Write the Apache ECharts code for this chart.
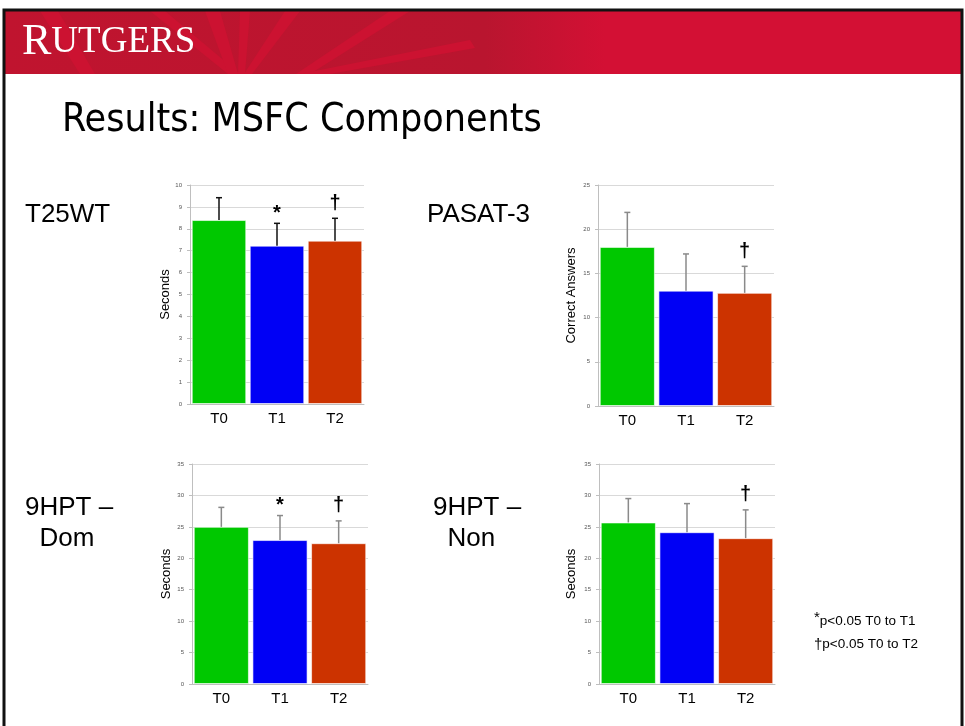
<!DOCTYPE html>
<html>
<head>
<meta charset="utf-8">
<script src="https://cdn.jsdelivr.net/npm/echarts@6/dist/echarts.min.js"></script>
<style>
  html, body { margin: 0; padding: 0; background: #fff; }
  #main { width: 965px; height: 726px; }
</style>
</head>
<body>
<div id="main"></div>
<script>
// data
var times = ['T0', 'T1', 'T2'];
var barColors = ['#00c800', '#0000f5', '#cc3300'];

var t25Means = [8.4, 7.23, 7.46];
var t25Upper = [9.42, 8.25, 8.48];
var t25Marks = ['', '*', '†'];

var pasatMeans = [18.0, 13.05, 12.8];
var pasatUpper = [21.9, 17.2, 15.8];
var pasatMarks = ['', '', '†'];

var domMeans = [25.0, 22.9, 22.4];
var domUpper = [28.1, 26.8, 25.95];
var domMarks = ['', '*', '†'];

var nonMeans = [25.7, 24.15, 23.2];
var nonUpper = [29.5, 28.7, 27.7];
var nonMarks = ['', '', '†'];

var panels = [
  { means: t25Means, upper: t25Upper, marks: t25Marks, max: 10, step: 1, name: 'Seconds', gap: 15, err: '#111', box: [190, 185, 174, 219] },
  { means: pasatMeans, upper: pasatUpper, marks: pasatMarks, max: 25, step: 5, name: 'Correct Answers', gap: 20, err: '#8a8a8a', box: [598, 185, 176, 221] },
  { means: domMeans, upper: domUpper, marks: domMarks, max: 35, step: 5, name: 'Seconds', gap: 19, err: '#8a8a8a', box: [192, 464, 176, 220] },
  { means: nonMeans, upper: nonUpper, marks: nonMarks, max: 35, step: 5, name: 'Seconds', gap: 21, err: '#8a8a8a', box: [599, 464, 176, 220] }
];

var grids = [], xAxes = [], yAxes = [], series = [];

panels.forEach(function (p, i) {
  grids.push({ left: p.box[0], top: p.box[1], width: p.box[2], height: p.box[3] });
  xAxes.push({
    type: 'category', gridIndex: i, data: times,
    axisLine: { lineStyle: { color: '#bfbfbf' } },
    axisTick: { show: false },
    axisLabel: { color: '#000', fontSize: 15, fontFamily: 'Liberation Sans, Arial', margin: 7 }
  });
  yAxes.push({
    type: 'value', gridIndex: i, min: 0, max: p.max, interval: p.step,
    name: p.name, nameLocation: 'middle', nameGap: p.gap, nameRotate: 90,
    nameTextStyle: { color: '#000', fontSize: 13, fontFamily: 'Liberation Sans, Arial' },
    axisLine: { show: true, lineStyle: { color: '#bfbfbf' } },
    axisTick: { show: true, length: 3, lineStyle: { color: '#bfbfbf' } },
    axisLabel: { color: '#555', fontSize: 6, margin: 8, fontFamily: 'Liberation Sans, Arial' },
    splitLine: { lineStyle: { color: '#d9d9d9' } }
  });
  series.push({
    type: 'bar', xAxisIndex: i, yAxisIndex: i,
    barCategoryGap: '6%',
    data: p.means.map(function (v, k) {
      return { value: v, itemStyle: { color: barColors[k], borderColor: 'rgba(255,255,255,0.6)', borderWidth: 1 } };
    }),
    z: 2
  });
  series.push({
    type: 'custom', xAxisIndex: i, yAxisIndex: i, z: 3,
    data: p.means.map(function (v, k) { return [k, v, p.upper[k]]; }),
    renderItem: function (params, api) {
      var base = api.coord([api.value(0), api.value(1)]);
      var top = api.coord([api.value(0), api.value(2)]);
      var mark = p.marks[params.dataIndex];
      var kids = [
        { type: 'line', shape: { x1: base[0], y1: base[1], x2: top[0], y2: top[1] }, style: { stroke: p.err, lineWidth: 1.5 } },
        { type: 'line', shape: { x1: top[0] - 3, y1: top[1], x2: top[0] + 3, y2: top[1] }, style: { stroke: p.err, lineWidth: 1.5 } }
      ];
      if (mark) {
        kids.push({
          type: 'text',
          x: top[0], y: top[1] - (mark === '*' ? 10 : 15),
          style: {
            text: mark, fill: '#000', align: 'center', verticalAlign: 'middle',
            font: 'bold 20px "Liberation Sans", Arial'
          }
        });
      }
      return { type: 'group', children: kids };
    }
  });
});

var graphics = [
  // slide frame and header band
  { type: 'rect', shape: { x: 4, y: 10, width: 958, height: 730 }, style: { fill: 'none', stroke: '#111', lineWidth: 3 }, z: 100 },
  { type: 'rect', shape: { x: 5, y: 11, width: 956, height: 63 }, style: { fill: '#d31034' } },
  { type: 'rect', shape: { x: 5, y: 11, width: 600, height: 63 },
    style: { fill: new echarts.graphic.LinearGradient(0, 0, 1, 0, [
      { offset: 0, color: '#c0142f' }, { offset: 0.8, color: '#b9152f' }, { offset: 1, color: '#d31034' }]) } },
  { type: 'polygon', shape: { points: [[40, 11], [58, 11], [95, 74], [80, 74]] }, style: { fill: '#cc1231' } },
  { type: 'polygon', shape: { points: [[150, 11], [165, 11], [240, 74], [228, 74]] }, style: { fill: '#cc1231' } },
  { type: 'polygon', shape: { points: [[205, 11], [220, 11], [238, 74], [228, 74]] }, style: { fill: '#cc1231' } },
  { type: 'polygon', shape: { points: [[240, 11], [250, 11], [245, 74], [238, 74]] }, style: { fill: '#cc1231' } },
  { type: 'polygon', shape: { points: [[285, 11], [300, 11], [252, 74], [244, 74]] }, style: { fill: '#cc1231' } },
  { type: 'polygon', shape: { points: [[390, 11], [410, 11], [310, 74], [296, 74]] }, style: { fill: '#cc1231' } },
  { type: 'polygon', shape: { points: [[300, 74], [470, 40], [475, 48], [330, 74]] }, style: { fill: '#cc1231' } },
  {
    type: 'text', left: 22, top: 20,
    style: {
      text: '{a|R}{b|UTGERS}', fill: '#fff',
      rich: {
        a: { fontSize: 44, fontFamily: 'Liberation Serif, serif', fill: '#fff' },
        b: { fontSize: 37, fontFamily: 'Liberation Serif, serif', fill: '#fff' }
      }
    }
  },
  { type: 'text', left: 62, top: 101, style: { text: 'Results: MSFC Components', fill: '#000', font: '39px "DejaVu Sans Condensed", "DejaVu Sans", sans-serif' } },
  { type: 'text', left: 25, top: 202, style: { text: 'T25WT', fill: '#000', font: '26px "Liberation Sans", Arial' } },
  { type: 'text', left: 427, top: 202, style: { text: 'PASAT-3', fill: '#000', font: '26px "Liberation Sans", Arial' } },
  { type: 'text', left: 25, top: 492, style: { text: '9HPT –\n  Dom', fill: '#000', font: '26px "Liberation Sans", Arial', lineHeight: 31 } },
  { type: 'text', left: 433, top: 492, style: { text: '9HPT –\n  Non', fill: '#000', font: '26px "Liberation Sans", Arial', lineHeight: 31 } },
  {
    type: 'text', left: 814, top: 610,
    style: {
      text: '{s|*}{t|p<0.05 T0 to T1}\n{d|†}{t|p<0.05 T0 to T2}', fill: '#000',
      rich: {
        s: { fontSize: 15, fontFamily: 'Liberation Sans, Arial', fill: '#000', verticalAlign: 'top', lineHeight: 23 },
        d: { fontSize: 15, fontFamily: 'Liberation Sans, Arial', fill: '#000', lineHeight: 23 },
        t: { fontSize: 13.5, fontFamily: 'Liberation Sans, Arial', fill: '#000', lineHeight: 23 }
      }
    }
  }
];

var chart = echarts.init(document.getElementById('main'));
chart.setOption({
  animation: false,
  backgroundColor: '#fff',
  grid: grids,
  xAxis: xAxes,
  yAxis: yAxes,
  series: series,
  graphic: graphics
});
</script>
</body>
</html>
